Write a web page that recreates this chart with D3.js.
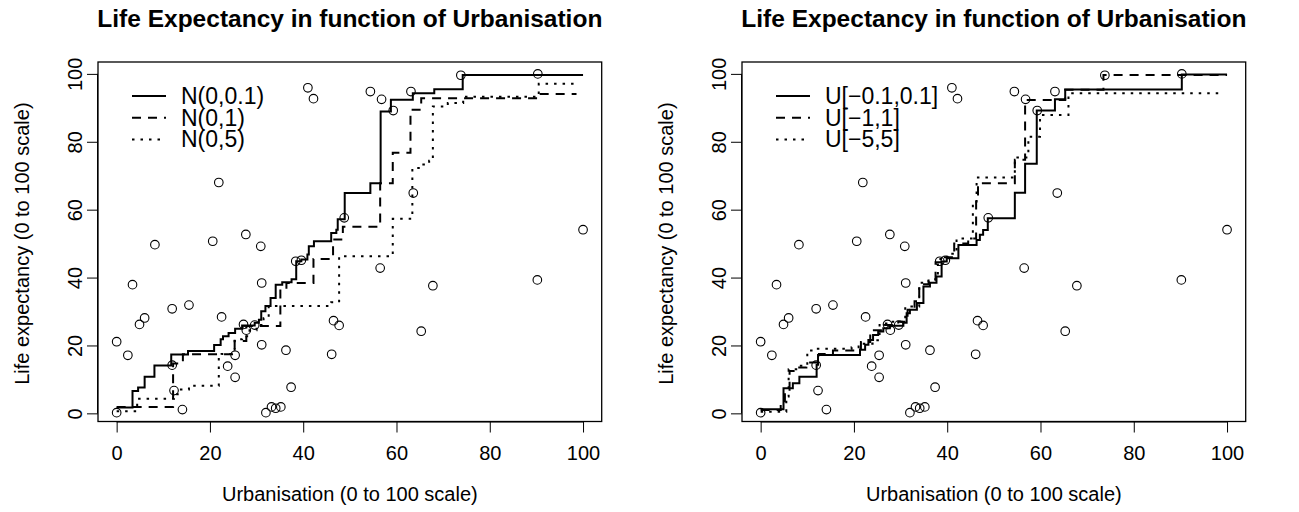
<!DOCTYPE html>
<html>
<head>
<meta charset="utf-8">
<script src="https://cdn.jsdelivr.net/npm/d3@7"></script>
<style>
  body { margin: 0; background: #fff; }
  text { font-family: "Liberation Sans", Arial, Helvetica, sans-serif; fill: #000; }
</style>
</head>
<body>
<div id="chart"></div>
<script>
// observed data (same points in both panels)
var urbanX = [0, 0, 2.4, 3.4, 4.9, 6.0, 8.2, 11.9, 11.9, 12.3, 14.1, 15.5, 20.6, 21.9, 22.5, 23.8,
    25.4, 25.4, 27.2, 27.7, 27.8, 29.6, 30.9, 31.1, 31.1, 32.0, 33.2, 34.1, 35.2, 36.3, 37.4, 38.4,
    39.6, 41.0, 42.2, 46.1, 46.5, 47.7, 48.8, 54.4, 56.5, 56.8, 59.3, 63.1, 63.6, 65.3, 67.8, 73.8,
    90.2, 90.3, 100];
var lifeY = [0.2, 21.1, 17.1, 37.9, 26.2, 28.1, 49.7, 30.8, 14.2, 6.7, 1.1, 31.9, 50.7, 68.0, 28.4, 13.9,
    17.1, 10.6, 26.2, 52.7, 24.5, 26.0, 49.2, 38.4, 20.2, 0.2, 1.9, 1.5, 1.9, 18.6, 7.7, 44.8,
    45.1, 95.9, 92.7, 17.4, 27.3, 25.9, 57.6, 94.8, 42.8, 92.5, 89.2, 94.8, 64.9, 24.2, 37.6, 99.6,
    39.3, 100.0, 54.1];

// step fits, normal noise (left panel)
var normLabels = ["N(0,0.1)", "N(0,1)", "N(0,5)"];
var normSmallX = [0, 3.4, 4.6, 6.0, 8.1, 11.7, 15.3, 20.9, 22.3, 22.8, 24.0, 25.4, 26.9, 29.6, 30.5, 31.0,
    31.9, 33.0, 34.1, 35.5, 37.5, 38.5, 39.6, 40.9, 41.2, 42.3, 46.0, 47.1, 47.4, 48.9, 54.4, 56.6,
    58.8, 63.5, 68.1, 74.2, 100];
var normSmallY = [1.7, 6.6, 7.6, 10.8, 14.1, 17.3, 18.4, 20.1, 21.8, 22.7, 23.7, 24.9, 25.9, 26.7, 27.6, 30.1,
    31.6, 34.0, 37.9, 38.6, 39.5, 44.8, 45.3, 46.8, 49.2, 50.7, 53.1, 54.1, 57.2, 64.9, 67.8, 88.9,
    92.4, 94.3, 95.5, 99.7, 99.7];
var normMidX = [0, 12.1, 14.2, 25.3, 27.8, 35.1, 36.4, 42.2, 46.4, 48.5, 56.5, 59.2, 63.0, 65.3, 90.2, 98.6];
var normMidY = [1.9, 14.7, 17.4, 21.3, 25.7, 36.5, 38.4, 45.5, 51.2, 55.0, 67.8, 76.8, 89.4, 92.8, 94.1, 94.1];
var normWideX = [0, 4.4, 12.3, 13.5, 15.5, 21.9, 22.5, 24.8, 25.3, 26.9, 28.5, 30.0, 31.5, 32.6, 46.0, 47.7,
    59.2, 63.4, 65.5, 67.0, 67.8, 71.0, 74.3, 90.5, 98.5];
var normWideY = [0.6, 4.3, 5.6, 7.0, 8.1, 16.9, 17.5, 18.3, 21.8, 22.7, 24.5, 26.0, 28.0, 31.6, 32.7, 46.3,
    57.3, 72.3, 73.3, 74.4, 90.4, 91.4, 93.3, 97.1, 97.1];

// step fits, uniform noise (right panel)
var unifLabels = ["U[\u22120.1,0.1]", "U[\u22121,1]", "U[\u22125,5]"];
var unifSmallX = [0, 4.9, 6.9, 8.3, 12.0, 12.3, 21.3, 22.4, 23.1, 24.1, 25.2, 26.3, 27.7, 30.6, 31.3, 32.0,
    33.5, 34.9, 36.3, 37.7, 38.8, 39.9, 42.4, 46.3, 47.0, 47.7, 48.7, 54.5, 56.7, 59.2, 63.1, 65.3,
    90.3, 100];
var unifSmallY = [1.2, 7.4, 8.9, 10.8, 14.3, 17.2, 18.7, 20.2, 21.6, 23.1, 24.1, 25.1, 25.8, 26.7, 29.5, 30.5,
    32.5, 37.4, 38.5, 40.3, 44.7, 45.7, 49.6, 51.1, 52.6, 54.0, 57.5, 65.0, 73.5, 89.2, 92.5, 95.4,
    99.8, 99.8];
var unifMidX = [0, 4.3, 5.2, 6.2, 8.0, 9.8, 12.5, 15.5, 20.5, 21.5, 23.5, 26.5, 29.5, 31.5, 33.0, 34.0,
    36.0, 37.5, 39.0, 41.5, 44.5, 46.2, 46.6, 54.5, 56.7, 65.3, 73.5, 100];
var unifMidY = [1.0, 2.5, 6.5, 12.5, 13.5, 15.0, 17.5, 18.5, 19.0, 21.0, 24.5, 26.0, 27.0, 30.5, 33.0, 38.0,
    39.0, 44.5, 46.0, 50.0, 51.5, 64.5, 67.8, 74.7, 92.3, 95.3, 99.7, 99.7];
var unifWideX = [0, 5.5, 6.0, 8.0, 10.0, 12.0, 19.5, 21.0, 24.0, 25.5, 28.0, 31.0, 34.0, 36.0, 38.0, 40.0,
    42.0, 45.5, 46.3, 54.5, 57.4, 59.9, 66.0, 99.2];
var unifWideY = [0.5, 5.0, 13.0, 14.0, 18.5, 19.0, 19.5, 20.5, 21.5, 26.5, 27.0, 31.5, 38.5, 39.5, 45.5, 47.0,
    51.5, 62.0, 69.5, 75.4, 81.5, 87.9, 94.3, 94.3];

var xTicks = [0, 20, 40, 60, 80, 100];
var yTicks = [0, 20, 40, 60, 80, 100];

var svgWidth = 1299;
var svgHeight = 512;
var font = "Liberation Sans, Arial, Helvetica, sans-serif";

var svg = d3.select("#chart")
    .append("svg")
    .attr("width", svgWidth)
    .attr("height", svgHeight);

svg.append("rect").attr("width", svgWidth).attr("height", svgHeight).attr("fill", "white");

// line styles: solid, dashed, dotted
var dashes = [null, "9,7", "2.5,6"];

function zip(xs, ys) {
    return xs.map((x, i) => [x, ys[i]]);
}

function drawPanel(offset, labels, fits) {
    // plot box in pixels
    var left = 98 + offset, right = 601.7 + offset, top = 62, bottom = 421.5;

    var x = d3.scaleLinear().domain([-4, 104]).range([left, right]);
    var y = d3.scaleLinear().domain([-2.4, 103.5]).range([bottom, top]);

    var g = svg.append("g");

    // title
    g.append("text")
        .attr("x", (left + right) / 2)
        .attr("y", 27)
        .attr("text-anchor", "middle")
        .style("font-size", "24.5px")
        .style("font-weight", "bold")
        .text("Life Expectancy in function of Urbanisation");

    // x axis
    var xAxis = g.append("g")
        .attr("transform", `translate(0, ${bottom})`)
        .call(d3.axisBottom(x).tickValues(xTicks).tickSize(11).tickPadding(13).tickSizeOuter(0));
    xAxis.select(".domain").attr("d", `M${x(0)},0.5H${x(100)}`);

    // y axis, labels parallel to the axis
    var yAxis = g.append("g")
        .attr("transform", `translate(${left}, 0)`)
        .call(d3.axisLeft(y).tickValues(yTicks).tickSize(11).tickSizeOuter(0));
    yAxis.select(".domain").attr("d", `M-0.5,${y(0)}V${y(100)}`);
    yAxis.selectAll(".tick text")
        .attr("x", null).attr("dy", null)
        .attr("text-anchor", "middle")
        .attr("transform", "translate(-16, 0) rotate(-90)")
        .attr("dy", "0em");

    svg.selectAll(".tick text").style("font-size", "20px").style("font-family", font).attr("fill", "#000");
    svg.selectAll(".tick line, .domain").attr("stroke", "#000").attr("stroke-width", 1);

    // box
    g.append("rect")
        .attr("x", left).attr("y", top)
        .attr("width", right - left).attr("height", bottom - top)
        .attr("fill", "none").attr("stroke", "#000").attr("stroke-width", 1.3);

    // axis titles
    g.append("text")
        .attr("x", x(50))
        .attr("y", 501)
        .attr("text-anchor", "middle")
        .style("font-size", "20px")
        .text("Urbanisation (0 to 100 scale)");

    g.append("text")
        .attr("transform", `translate(${offset + 29}, ${y(50)}) rotate(-90)`)
        .attr("text-anchor", "middle")
        .style("font-size", "20px")
        .text("Life expectancy (0 to 100 scale)");

    // points
    g.selectAll("circle")
        .data(zip(urbanX, lifeY))
        .enter()
        .append("circle")
        .attr("cx", d => x(d[0]))
        .attr("cy", d => y(d[1]))
        .attr("r", 4.3)
        .attr("fill", "none")
        .attr("stroke", "#000")
        .attr("stroke-width", 1.1);

    // step fits
    var line = d3.line()
        .x(d => x(d[0]))
        .y(d => y(d[1]))
        .curve(d3.curveStepAfter);

    fits.forEach((f, i) => {
        g.append("path")
            .attr("d", line(zip(f[0], f[1])))
            .attr("fill", "none")
            .attr("stroke", "#000")
            .attr("stroke-width", 2)
            .attr("stroke-dasharray", dashes[i]);
    });

    // legend
    labels.forEach((lab, i) => {
        var ly = 96 + i * 21.7;
        g.append("line")
            .attr("x1", offset + 132).attr("x2", offset + 166)
            .attr("y1", ly).attr("y2", ly)
            .attr("stroke", "#000")
            .attr("stroke-width", 2)
            .attr("stroke-dasharray", dashes[i]);
        g.append("text")
            .attr("x", offset + 181)
            .attr("y", ly + 8)
            .style("font-size", "23px")
            .text(lab);
    });
}

drawPanel(0, normLabels, [[normSmallX, normSmallY], [normMidX, normMidY], [normWideX, normWideY]]);
drawPanel(644, unifLabels, [[unifSmallX, unifSmallY], [unifMidX, unifMidY], [unifWideX, unifWideY]]);
</script>
</body>
</html>
